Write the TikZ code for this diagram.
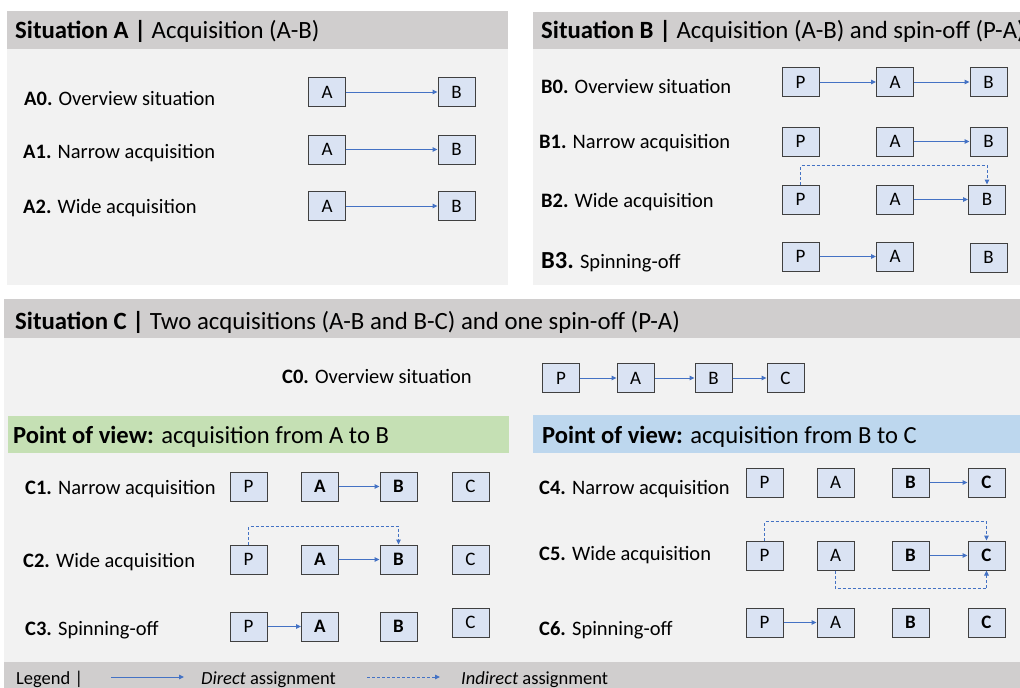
\documentclass[tikz,border=0pt]{standalone}
\usepackage{fontspec}
\setmainfont{Carlito}
\usetikzlibrary{arrows.meta}
\definecolor{hdr}{HTML}{D0CECE}
\definecolor{bodyg}{HTML}{F2F2F2}
\definecolor{boxfill}{HTML}{DAE3F3}
\definecolor{boxline}{HTML}{404040}
\definecolor{arr}{HTML}{4472C4}
\definecolor{greenb}{HTML}{C5E0B4}
\definecolor{blueb}{HTML}{BDD7EE}
\begin{document}
\begin{tikzpicture}[x=1pt,y=-1pt,
  ent/.style={draw=boxline, fill=boxfill, line width=1pt, minimum width=37pt, minimum height=29pt, inner sep=0pt, font=\fontsize{19}{19}\selectfont},
  entb/.style={ent, font=\fontsize{19}{19}\selectfont\bfseries},
  lbl/.style={anchor=base west, inner sep=0pt, font=\fontsize{20.5}{24}\selectfont},
  hd/.style={anchor=base west, inner sep=0pt, font=\fontsize{24.8}{28}\selectfont},
  band/.style={anchor=base west, inner sep=0pt, font=\fontsize{24.6}{28}\selectfont},
  lgd/.style={anchor=base west, inner sep=0pt, font=\fontsize{18.5}{20}\selectfont},
  direct/.style={draw=arr, line width=1pt, -{Triangle[length=5pt,width=4.5pt]}},
  indirect/.style={direct, dash pattern=on 3pt off 2pt},
]
\useasboundingbox (0,0) rectangle (1020,688);
\fill[white] (0,0) rectangle (1020,688);
% panels
\fill[bodyg] (7,49) rectangle (508,285);
\fill[hdr] (7,11) rectangle (508,49);
\fill[bodyg] (533,49) rectangle (1020,285);
\fill[hdr] (533,12) rectangle (1020,49);
\fill[bodyg] (4,338) rectangle (1020,662);
\fill[hdr] (4,299) rectangle (1020,338);
\fill[greenb] (8,416) rectangle (509,453);
\fill[blueb] (533,415) rectangle (1020,453);
\fill[hdr] (4,662) rectangle (1020,688);
% headers
\node[hd] (ha) at (15,38) {\textbf{Situation A |} Acquisition (A-B)};
\node[hd] (hb) at (541,38) {\textbf{Situation B |} Acquisition (A-B) and spin-off (P-A)};
\node[hd] (hc) at (15,329) {\textbf{Situation C |} Two acquisitions (A-B and B-C) and one spin-off (P-A)};
\node[band] (pg) at (13,443) {\textbf{Point of view:} acquisition from A to B};
\node[band] (pb) at (542,443) {\textbf{Point of view:} acquisition from B to C};
% Situation A
\node[lbl] (la0) at (24,105) {\textbf{A0.} Overview situation};
\node[lbl] (la1) at (23,158) {\textbf{A1.} Narrow acquisition};
\node[lbl] (la2) at (23,213) {\textbf{A2.} Wide acquisition};
\node[ent] (a0a) at (327,92) {A}; \node[ent] (a0b) at (456.5,92) {B};
\node[ent] (a1a) at (327,149.5) {A}; \node[ent] (a1b) at (456.5,149.5) {B};
\node[ent] (a2a) at (327,206) {A}; \node[ent] (a2b) at (456.5,206) {B};
\draw[direct] (a0a) -- (a0b);
\draw[direct] (a1a) -- (a1b);
\draw[direct] (a2a) -- (a2b);
% Situation B
\node[lbl] (lb0) at (541,93) {\textbf{B0.} Overview situation};
\node[lbl] (lb1) at (539,148) {\textbf{B1.} Narrow acquisition};
\node[lbl] (lb2) at (541,207) {\textbf{B2.} Wide acquisition};
\node[lbl] (lb3) at (541,268) {{\fontsize{24.5}{28}\selectfont\textbf{B3.}} Spinning-off};
\node[ent] (b0p) at (800.5,82) {P}; \node[ent] (b0a) at (895,82) {A}; \node[ent] (b0b) at (988.5,82) {B};
\node[ent] (b1p) at (800.5,141.5) {P}; \node[ent] (b1a) at (895,141.5) {A}; \node[ent] (b1b) at (988.5,141.5) {B};
\node[ent] (b2p) at (800.5,199.5) {P}; \node[ent] (b2a) at (895,199.5) {A}; \node[ent] (b2b) at (987,199.5) {B};
\node[ent] (b3p) at (800.5,256.5) {P}; \node[ent] (b3a) at (895,256.5) {A}; \node[ent] (b3b) at (988.5,257.5) {B};
\draw[direct] (b0p) -- (b0a);
\draw[direct] (b0a) -- (b0b);
\draw[direct] (b1a) -- (b1b);
\draw[direct] (b2a) -- (b2b);
\draw[indirect] (b2p.north) -- ++(0,-19) -| (b2b.north);
\draw[direct] (b3p) -- (b3a);
% Situation C overview
\node[lbl] (lc0) at (282,383) {\textbf{C0.} Overview situation};
\node[ent] (c0p) at (561,378) {P}; \node[ent] (c0a) at (635.5,378) {A};
\node[ent] (c0b) at (713.5,378) {B}; \node[ent] (c0c) at (785.5,378) {C};
\draw[direct] (c0p) -- (c0a);
\draw[direct] (c0a) -- (c0b);
\draw[direct] (c0b) -- (c0c);
% C1-C3
\node[lbl] (lc1) at (25,494) {\textbf{C1.} Narrow acquisition};
\node[lbl] (lc2) at (23,567) {\textbf{C2.} Wide acquisition};
\node[lbl] (lc3) at (25,635) {\textbf{C3.} Spinning-off};
\node[ent] (c1p) at (248.5,486.5) {P}; \node[entb] (c1a) at (320,486.5) {A};
\node[entb] (c1b) at (398.5,486.5) {B}; \node[ent] (c1c) at (470.5,486.5) {C};
\node[ent] (c2p) at (248.5,559.5) {P}; \node[entb] (c2a) at (320,559.5) {A};
\node[entb] (c2b) at (398.5,559.5) {B}; \node[ent] (c2c) at (470.5,559.5) {C};
\node[ent] (c3p) at (248.5,626.5) {P}; \node[entb] (c3a) at (320,626.5) {A};
\node[entb] (c3b) at (398.5,626.5) {B}; \node[ent] (c3c) at (470.5,622.5) {C};
\draw[direct] (c1a) -- (c1b);
\draw[direct] (c2a) -- (c2b);
\draw[indirect] (c2p.north) -- ++(0,-18) -| (c2b.north);
\draw[direct] (c3p) -- (c3a);
% C4-C6
\node[lbl] (lc4) at (539,494) {\textbf{C4.} Narrow acquisition};
\node[lbl] (lc5) at (539,560) {\textbf{C5.} Wide acquisition};
\node[lbl] (lc6) at (539,635) {\textbf{C6.} Spinning-off};
\node[ent] (c4p) at (764.5,482.5) {P}; \node[ent] (c4a) at (835.5,482.5) {A};
\node[entb] (c4b) at (910.5,482.5) {B}; \node[entb] (c4c) at (986.5,482.5) {C};
\node[ent] (c5p) at (764.5,555.5) {P}; \node[ent] (c5a) at (835.5,555.5) {A};
\node[entb] (c5b) at (910.5,555.5) {B}; \node[entb] (c5c) at (986.5,555.5) {C};
\node[ent] (c6p) at (764.5,622.5) {P}; \node[ent] (c6a) at (835.5,622.5) {A};
\node[entb] (c6b) at (910.5,622.5) {B}; \node[entb] (c6c) at (986.5,622.5) {C};
\draw[direct] (c4b) -- (c4c);
\draw[direct] (c5b) -- (c5c);
\draw[indirect] (c5p.north) -- ++(0,-19) -| (c5c.north);
\draw[indirect] (c5a.south) -- ++(0,18) -| (c5c.south);
\draw[direct] (c6p) -- (c6a);
% legend
\node[lgd] (lg) at (16,684) {Legend |};
\coordinate (l1s) at (111,677); \coordinate (l1e) at (184,677);
\draw[direct] (l1s) -- (l1e);
\node[lgd] (ld) at (201,684) {\textit{Direct} assignment};
\coordinate (l2s) at (367,677); \coordinate (l2e) at (440,677);
\draw[indirect] (l2s) -- (l2e);
\node[lgd] (li) at (461,684) {\textit{Indirect} assignment};
\end{tikzpicture}
\end{document}
